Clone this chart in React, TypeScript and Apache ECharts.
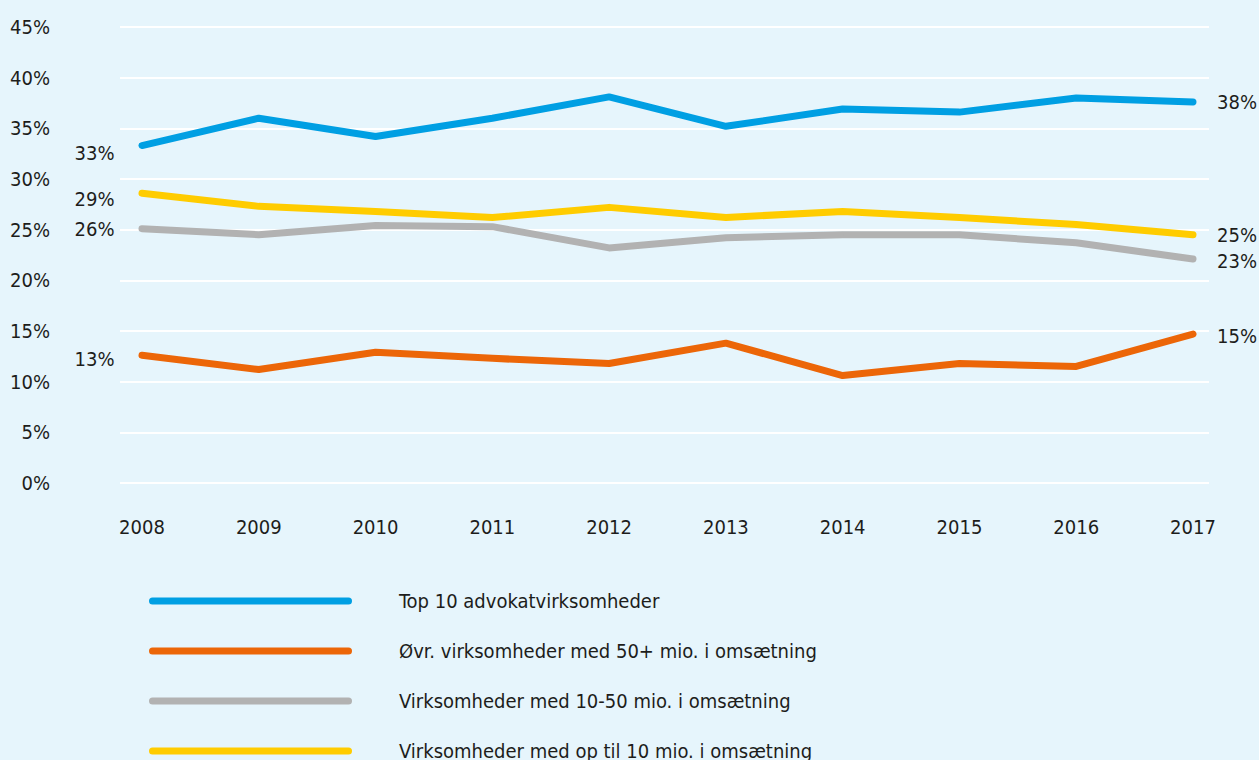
import React, { useEffect, useRef } from "react";
import * as echarts from "echarts";

const years = ["2008", "2009", "2010", "2011", "2012", "2013", "2014", "2015", "2016", "2017"];
const seriesNames = [
  "Top 10 advokatvirksomheder",
  "Øvr. virksomheder med 50+ mio. i omsætning",
  "Virksomheder med 10-50 mio. i omsætning",
  "Virksomheder med op til 10 mio. i omsætning",
];
const top10 = [33.3, 36.0, 34.2, 36.0, 38.1, 35.2, 36.9, 36.6, 38.0, 37.6];
const over50 = [12.6, 11.2, 12.9, 12.3, 11.8, 13.8, 10.6, 11.8, 11.5, 14.7];
const mid10to50 = [25.1, 24.5, 25.4, 25.3, 23.2, 24.2, 24.5, 24.5, 23.7, 22.1];
const upTo10 = [28.6, 27.3, 26.8, 26.2, 27.2, 26.2, 26.8, 26.2, 25.5, 24.5];
const seriesData = [top10, over50, mid10to50, upTo10];
const startLabels = ["33%", "13%", "26%", "29%"];
const endLabels = ["38%", "15%", "23%", "25%"];
const yTicks = [0, 5, 10, 15, 20, 25, 30, 35, 40, 45];

const colors = ["#009fe3", "#ec6608", "#b2b2b2", "#ffcc00"];
const startOffsets = [[0, 7], [0, 4], [0, 0], [0, 6]];
const endOffsets = [[0, 0], [0, 2], [0, 2], [0, 0]];
const FONT = "'Liberation Sans Narrow', 'DejaVu Sans Condensed', sans-serif";
const TEXT = "#1d1d1b";
const FS = 20;

export default function App() {
  const ref = useRef<HTMLDivElement>(null);
  useEffect(() => {
    document.body.style.margin = "0";
    const chart = echarts.init(ref.current!, null, { renderer: "svg" });
    const series: any[] = seriesNames.map((name, i) => ({
      type: "line",
      name,
      xAxisIndex: 0,
      yAxisIndex: 0,
      data: seriesData[i],
      color: colors[i],
      symbol: "circle",
      symbolSize: 1,
      showSymbol: true,
      itemStyle: { color: colors[i] },
      lineStyle: { width: 7, color: colors[i], cap: "round", join: "round" },
      label: {
        show: true,
        position: "left",
        distance: 27,
        offset: startOffsets[i],
        fontFamily: FONT,
        fontSize: FS,
        color: TEXT,
        formatter: (p: any) => (p.dataIndex === 0 ? startLabels[i] : ""),
      },
      endLabel: {
        show: true,
        distance: 24,
        offset: endOffsets[i],
        fontFamily: FONT,
        fontSize: FS,
        color: TEXT,
        formatter: () => endLabels[i],
      },
      emphasis: { disabled: true },
      z: 10 - i,
    }));
    const option: any = {
      animation: false,
      backgroundColor: "#e6f5fc",
      grid: [
        { left: 142, right: 66, top: 27, bottom: 277 },
        { left: 120, right: 50, top: 27, bottom: 277 },
      ],
      xAxis: [
        {
          type: "category",
          gridIndex: 0,
          data: years,
          boundaryGap: false,
          axisLine: { show: false },
          axisTick: { show: false },
          splitLine: { show: false },
          axisLabel: { margin: 34, fontFamily: FONT, fontSize: FS, color: TEXT },
        },
        { type: "value", gridIndex: 1, show: false, min: 0, max: 1 },
      ],
      yAxis: [
        { type: "value", gridIndex: 0, min: 0, max: 45, interval: 5, show: false },
        {
          type: "value",
          gridIndex: 1,
          min: 0,
          max: 45,
          interval: 5,
          axisLine: { show: false },
          axisTick: { show: false },
          splitLine: { show: true, lineStyle: { color: "#ffffff", width: 2 } },
          axisLabel: {
            margin: 70,
            fontFamily: FONT,
            fontSize: FS,
            color: TEXT,
            formatter: (v: number) => (yTicks.includes(v) ? v + "%" : ""),
          },
        },
      ],
      legend: {
        orient: "vertical",
        left: 149,
        top: 591,
        height: 200,
        padding: 0,
        itemWidth: 203,
        itemHeight: 7,
        itemGap: 30,
        icon: "path://M3.5,0 H199.5 A3.5,3.5 0 0 1 199.5,7 H3.5 A3.5,3.5 0 0 1 3.5,0 Z",
        selectedMode: false,
        itemStyle: { borderWidth: 0 },
        textStyle: {
          fontFamily: FONT,
          fontSize: FS,
          color: TEXT,
          lineHeight: 20,
          padding: [0, 0, 0, 42],
        },
        data: seriesNames,
      },
      series,
    };
    chart.setOption(option);
    return () => chart.dispose();
  }, []);
  return <div ref={ref} style={{ width: 1259, height: 760 }} />;
}
